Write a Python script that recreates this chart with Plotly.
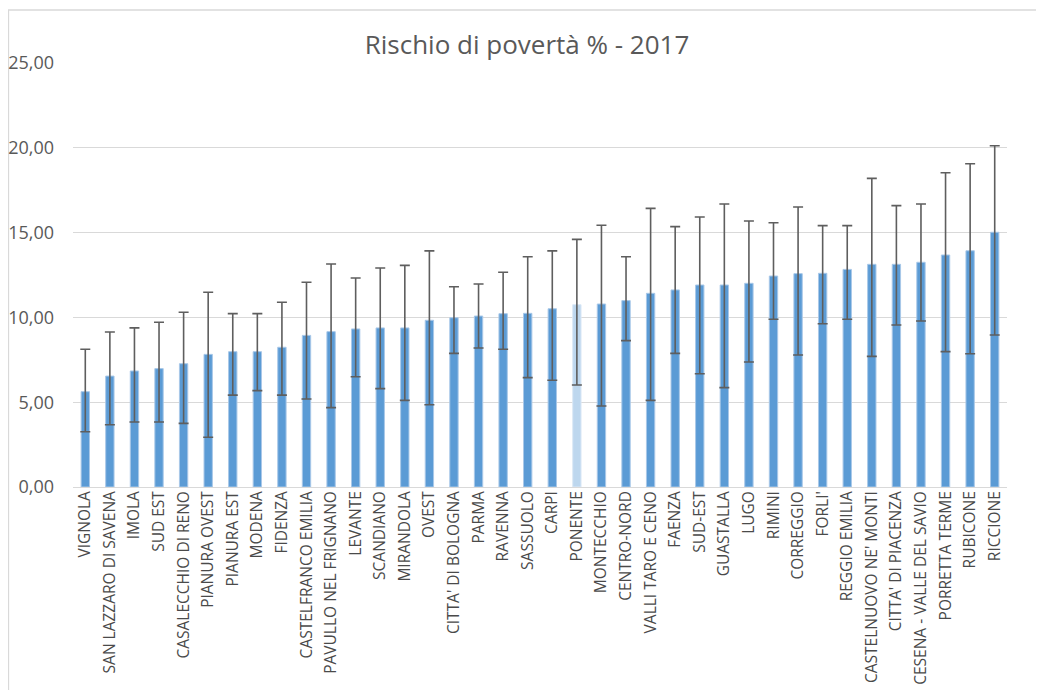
import plotly.graph_objects as go

categories = ["VIGNOLA", "SAN LAZZARO DI SAVENA", "IMOLA", "SUD EST", "CASALECCHIO DI RENO",
              "PIANURA OVEST", "PIANURA EST", "MODENA", "FIDENZA", "CASTELFRANCO EMILIA",
              "PAVULLO NEL FRIGNANO", "LEVANTE", "SCANDIANO", "MIRANDOLA", "OVEST",
              "CITTA' DI BOLOGNA", "PARMA", "RAVENNA", "SASSUOLO", "CARPI", "PONENTE",
              "MONTECCHIO", "CENTRO-NORD", "VALLI TARO E CENO", "FAENZA", "SUD-EST",
              "GUASTALLA", "LUGO", "RIMINI", "CORREGGIO", "FORLI'", "REGGIO EMILIA",
              "CASTELNUOVO NE' MONTI", "CITTA' DI PIACENZA", "CESENA - VALLE DEL SAVIO",
              "PORRETTA TERME", "RUBICONE", "RICCIONE"]

values = [5.62, 6.54, 6.84, 6.98, 7.27, 7.82, 7.98, 7.98, 8.24, 8.94,
          9.16, 9.32, 9.38, 9.38, 9.83, 9.98, 10.08, 10.22, 10.24, 10.51,
          10.75, 10.79, 10.99, 11.42, 11.62, 11.91, 11.91, 12.01, 12.44, 12.58,
          12.60, 12.83, 13.13, 13.13, 13.25, 13.68, 13.93, 15.02]

upper = [8.12, 9.14, 9.38, 9.71, 10.30, 11.48, 10.22, 10.22, 10.89, 12.07,
         13.15, 12.32, 12.91, 13.07, 13.92, 11.81, 11.97, 12.66, 13.58, 13.92,
         14.60, 15.43, 13.58, 16.43, 15.35, 15.92, 16.69, 15.68, 15.58, 16.51,
         15.41, 15.41, 18.20, 16.59, 16.69, 18.53, 19.06, 20.12]

lower = [3.26, 3.67, 3.83, 3.83, 3.75, 2.93, 5.42, 5.68, 5.42, 5.19,
         4.68, 6.50, 5.80, 5.11, 4.85, 7.88, 8.20, 8.12, 6.45, 6.29,
         6.01, 4.78, 8.63, 5.11, 7.88, 6.68, 5.86, 7.37, 9.89, 7.78,
         9.63, 9.89, 7.70, 9.55, 9.79, 7.98, 7.86, 8.96]

highlight = "PONENTE"
y_ticks = [0, 5, 10, 15, 20, 25]

err_plus = [u - v for u, v in zip(upper, values)]
err_minus = [v - l for v, l in zip(values, lower)]
colors = ["#BDD7EE" if c == highlight else "#5B9BD5" for c in categories]
line_colors = ["#DCE9F6" if c == highlight else "#A9C8E8" for c in categories]

fig = go.Figure()
fig.add_trace(go.Bar(
    x=categories, y=values,
    marker=dict(color=colors, line=dict(color=line_colors, width=1)),
    error_y=dict(type="data", symmetric=False, array=err_plus, arrayminus=err_minus,
                 color="#5E5E5E", thickness=1.6, width=5),
    width=0.34,
))

# page has an 8px body margin; figure is sized to fit inside it
W, H = 1036, 682
L, R, T, B = 65, 37, 55, 203
pw, ph = W - L - R, H - T - B

fig.update_layout(
    width=W, height=H,
    margin=dict(l=L, r=R, t=T, b=B, autoexpand=False),
    paper_bgcolor="white", plot_bgcolor="white",
    separators=",.",
    showlegend=False,
    title=dict(text="Rischio di povertà % - 2017", x=(519 - L) / pw, xref="paper",
               xanchor="center", y=1 - 37 / H, yanchor="middle",
               font=dict(family="Open Sans, sans-serif", size=26, color="#595959")),
    font=dict(family="Open Sans, sans-serif", color="#595959"),
    xaxis=dict(tickangle=-90, tickfont=dict(size=15.5, color="#4A4A4A", family="Open Sans, sans-serif"),
               showgrid=False, showline=False, ticks="", automargin=False,
               range=[-0.5, len(categories) - 0.5]),
    yaxis=dict(range=[0, 25], tickvals=y_ticks, tickformat=".2f",
               tickfont=dict(size=18, color="#595959", family="Open Sans, sans-serif"),
               showgrid=True, gridcolor="#D9D9D9", gridwidth=1.3,
               zeroline=True, zerolinecolor="#D9D9D9", zerolinewidth=1.3,
               ticks="", ticklabelstandoff=18, automargin=False),
    shapes=[dict(type="rect", xref="paper", yref="paper",
                 x0=(0.5 - L) / pw, x1=(W + 20 - L) / pw,
                 y0=-(B + 20) / ph, y1=(H - B - 2) / ph,
                 line=dict(color="#D9D9D9", width=1.3), fillcolor="rgba(0,0,0,0)", layer="below")],
)

fig.write_html("out.html")
